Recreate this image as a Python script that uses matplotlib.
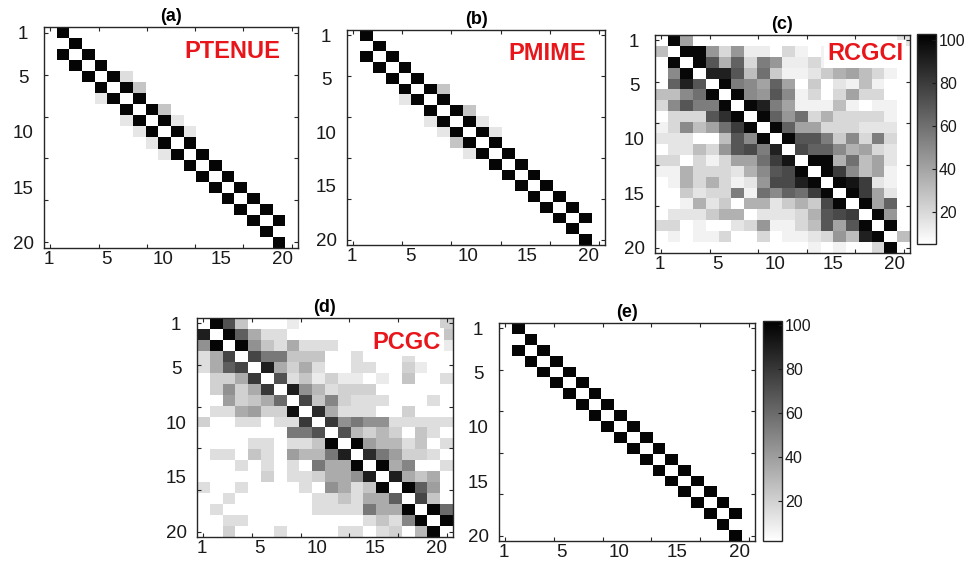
import numpy as np
import matplotlib.pyplot as plt

plt.rcParams['font.family'] = ['Liberation Sans', 'DejaVu Sans']

N = 20
tick_text = ['1', '5', '10', '15', '20']
# where the tick numbers sit (data units), tick marks are separate
xlab_pos = [0.85, 5.4, 9.9, 14.45, 19.25]
ylab_pos = [1, 5, 10, 15, 20]
cbar_ticks = [20, 40, 60, 80, 100]

# true chain couplings: (i, i+1) above the diagonal, (i+1, i) below
upper = [100, 100, 100, 100, 100, 100, 100, 100, 100, 100,
         100, 100, 100, 100, 100, 100, 100, 100, 0]
lower = [0, 100, 100, 100, 100, 100, 100, 100, 100, 100,
         100, 100, 100, 100, 100, 100, 100, 100, 100]

# spurious weak links (row, col, percent), 1-based
ptenue_extra = [(5, 7, 15), (6, 8, 25), (7, 5, 12), (8, 10, 25), (9, 7, 12),
                (9, 11, 12), (10, 8, 12), (10, 12, 12), (11, 9, 12), (12, 10, 12)]
pmime_extra = [(6, 8, 25), (7, 5, 12), (8, 10, 25), (9, 7, 12), (9, 11, 12),
               (10, 8, 12), (10, 12, 12), (11, 9, 25), (12, 10, 12)]

rcgci = np.array([
    [0, 100, 40, 0, 0, 0, 0, 0, 0, 0, 0, 0, 0, 0, 0, 0, 0, 0, 0, 15],
    [30, 0, 100, 100, 45, 20, 45, 12, 12, 0, 20, 10, 0, 10, 0, 0, 0, 0, 0, 0],
    [0, 100, 0, 100, 70, 35, 65, 20, 55, 45, 12, 12, 20, 10, 0, 0, 0, 0, 0, 0],
    [0, 50, 100, 0, 90, 90, 70, 30, 60, 25, 10, 10, 15, 25, 35, 40, 30, 20, 10, 0],
    [0, 65, 90, 70, 0, 100, 55, 50, 40, 65, 40, 0, 25, 0, 15, 10, 30, 10, 0, 0],
    [30, 30, 50, 60, 100, 0, 100, 50, 45, 70, 50, 10, 20, 0, 20, 40, 20, 20, 0, 0],
    [20, 50, 70, 55, 55, 100, 0, 100, 90, 55, 40, 10, 10, 10, 30, 10, 0, 10, 10, 0],
    [0, 20, 20, 20, 70, 85, 100, 0, 100, 65, 45, 60, 20, 35, 20, 20, 20, 20, 10, 0],
    [10, 20, 50, 30, 40, 60, 80, 100, 0, 100, 65, 40, 40, 20, 20, 20, 15, 15, 15, 0],
    [15, 15, 15, 0, 0, 30, 70, 50, 100, 0, 100, 70, 70, 55, 25, 50, 20, 55, 20, 0],
    [0, 15, 15, 30, 20, 45, 70, 75, 55, 90, 0, 75, 65, 65, 50, 35, 40, 20, 15, 0],
    [20, 20, 0, 20, 10, 20, 40, 40, 60, 80, 95, 0, 100, 100, 35, 60, 30, 40, 15, 0],
    [10, 10, 35, 20, 20, 20, 15, 35, 50, 70, 75, 100, 0, 100, 80, 50, 30, 40, 10, 0],
    [0, 10, 35, 20, 35, 20, 10, 15, 45, 75, 75, 90, 100, 0, 100, 95, 80, 15, 10, 0],
    [0, 0, 25, 15, 20, 20, 55, 10, 60, 50, 65, 60, 80, 100, 0, 100, 80, 40, 15, 0],
    [0, 0, 10, 35, 15, 25, 0, 35, 35, 15, 25, 35, 25, 75, 100, 0, 100, 40, 65, 0],
    [0, 15, 15, 15, 25, 35, 35, 0, 15, 15, 15, 20, 35, 70, 75, 80, 0, 100, 45, 0],
    [20, 20, 0, 10, 0, 0, 15, 20, 45, 10, 10, 20, 30, 70, 40, 70, 100, 0, 100, 0],
    [0, 10, 0, 10, 10, 20, 0, 0, 20, 0, 10, 10, 15, 20, 45, 30, 90, 100, 0, 30],
    [0, 0, 0, 0, 0, 0, 0, 0, 0, 0, 0, 0, 10, 0, 10, 0, 0, 20, 100, 0],
])

pcgc = np.array([
    [0, 100, 70, 25, 0, 0, 0, 10, 0, 0, 0, 0, 0, 0, 0, 0, 0, 0, 0, 20],
    [90, 0, 100, 65, 35, 15, 15, 0, 0, 0, 0, 0, 0, 0, 0, 0, 0, 0, 0, 25],
    [45, 100, 0, 100, 45, 25, 15, 35, 15, 15, 15, 0, 0, 0, 0, 0, 0, 0, 0, 10],
    [15, 35, 75, 0, 75, 55, 55, 25, 25, 25, 0, 0, 15, 0, 0, 0, 15, 0, 0, 0],
    [15, 35, 65, 75, 0, 90, 35, 20, 35, 15, 0, 0, 15, 15, 0, 0, 20, 10, 0, 0],
    [0, 20, 20, 35, 80, 0, 70, 15, 25, 10, 20, 10, 10, 0, 10, 0, 25, 0, 0, 15],
    [0, 20, 45, 20, 35, 80, 0, 90, 45, 30, 15, 20, 20, 20, 0, 0, 0, 0, 0, 0],
    [0, 0, 40, 20, 25, 35, 60, 0, 75, 25, 50, 20, 15, 15, 15, 0, 0, 0, 15, 0],
    [0, 15, 15, 35, 40, 20, 20, 95, 0, 85, 35, 15, 15, 15, 0, 0, 20, 0, 0, 0],
    [20, 0, 0, 15, 15, 0, 15, 15, 80, 0, 80, 45, 55, 45, 45, 15, 15, 15, 15, 15],
    [0, 0, 0, 0, 0, 0, 0, 55, 55, 70, 0, 70, 30, 20, 30, 20, 0, 25, 15, 0],
    [0, 0, 0, 0, 15, 15, 0, 15, 15, 25, 100, 0, 100, 40, 30, 30, 15, 25, 0, 15],
    [0, 15, 15, 0, 25, 15, 0, 40, 30, 30, 55, 90, 0, 85, 55, 40, 20, 20, 15, 0],
    [0, 0, 0, 15, 0, 15, 0, 15, 0, 55, 35, 35, 100, 0, 100, 35, 50, 0, 0, 15],
    [0, 0, 0, 0, 0, 20, 0, 15, 15, 20, 35, 35, 45, 90, 0, 90, 35, 25, 35, 0],
    [15, 0, 0, 15, 0, 0, 0, 0, 15, 0, 45, 35, 15, 25, 100, 0, 100, 65, 40, 0],
    [0, 0, 15, 0, 0, 0, 0, 0, 0, 15, 15, 25, 15, 35, 35, 65, 0, 75, 25, 0],
    [0, 15, 0, 0, 0, 0, 0, 0, 0, 15, 15, 15, 15, 55, 35, 35, 100, 0, 100, 60],
    [0, 0, 15, 15, 0, 0, 0, 0, 0, 0, 0, 0, 0, 15, 25, 15, 50, 100, 0, 100],
    [0, 0, 20, 0, 0, 0, 15, 0, 0, 0, 0, 15, 15, 0, 15, 20, 0, 30, 100, 0],
])


def chain_matrix(extra=()):
    m = np.diag(upper, 1) + np.diag(lower, -1)
    for r, c, v in extra:
        m[r - 1, c - 1] = v
    return m


frame = '#262626'
num_size = 13.5


def draw(ax, mat, title, label=None, clim=(2, 102)):
    im = ax.imshow(mat, cmap='gray_r', vmin=clim[0], vmax=clim[1],
                   interpolation='nearest', aspect='auto',
                   extent=(0.5, N + 0.5, N + 0.5, 0.5))
    # keep number labels even where they sit on a tick mark
    ax.xaxis.remove_overlapping_locs = False
    ax.yaxis.remove_overlapping_locs = False
    marks = np.linspace(1, N, 6)
    ax.set_xticks(marks)
    ax.set_yticks(marks)
    ax.tick_params(which='major', direction='in', length=3, width=0.8,
                   top=True, right=True, labelbottom=False, labelleft=False,
                   color=frame)
    ax.set_xticks(xlab_pos, labels=tick_text, minor=True)
    ax.set_yticks(ylab_pos, labels=tick_text, minor=True)
    ax.tick_params(which='minor', length=0, labelsize=num_size, colors='#1a1a1a')
    ax.tick_params(axis='x', which='minor', pad=2)
    ax.tick_params(axis='y', which='minor', pad=15)
    for t in ax.get_yticklabels(minor=True):
        t.set_ha('center')
    for s in ax.spines.values():
        s.set_color(frame)
        s.set_linewidth(1.0)
    ax.set_xlim(0.5, N + 0.5)
    ax.set_ylim(N + 0.5, 0.5)
    ax.set_title(title, fontsize=13, fontweight='bold', pad=4)
    if label:
        ax.text(label[1], label[2], label[0], transform=ax.transAxes,
                color='#e8161b', fontsize=17, fontweight='bold',
                ha='center', va='center',
                bbox=dict(facecolor='white', edgecolor='none', pad=2))
    return im


def add_cbar(fig, im, rect):
    cax = fig.add_axes(rect)
    cb = fig.colorbar(im, cax=cax, ticks=cbar_ticks)
    cb.outline.set_edgecolor(frame)
    cb.outline.set_linewidth(1.0)
    cax.tick_params(direction='in', length=3, labelsize=11.5, pad=2,
                    colors='#1a1a1a')
    return cb


W, H = 969, 563
fig = plt.figure(figsize=(W / 100, H / 100), dpi=100)


def box(x0, y0, x1, y1):
    return [x0 / W, 1 - y1 / H, (x1 - x0) / W, (y1 - y0) / H]


ax_a = fig.add_axes(box(44, 27, 298, 248))
ax_b = fig.add_axes(box(347, 30, 605, 245))
ax_c = fig.add_axes(box(655, 35, 910, 253))
ax_d = fig.add_axes(box(197, 318, 453, 537))
ax_e = fig.add_axes(box(499, 323, 755, 541))

draw(ax_a, chain_matrix(ptenue_extra), '(a)', ('PTENUE', 0.74, 0.887))
draw(ax_b, chain_matrix(pmime_extra), '(b)', ('PMIME', 0.775, 0.893))
im_c = draw(ax_c, rcgci, '(c)', ('RCGCI', 0.824, 0.913), clim=(5, 103))
draw(ax_d, pcgc, '(d)', ('PCGC', 0.82, 0.89))
im_e = draw(ax_e, chain_matrix(), '(e)')

add_cbar(fig, im_c, box(917, 34, 936, 244))
add_cbar(fig, im_e, box(763, 321, 782, 541))

fig.savefig('out.png', dpi=100)
